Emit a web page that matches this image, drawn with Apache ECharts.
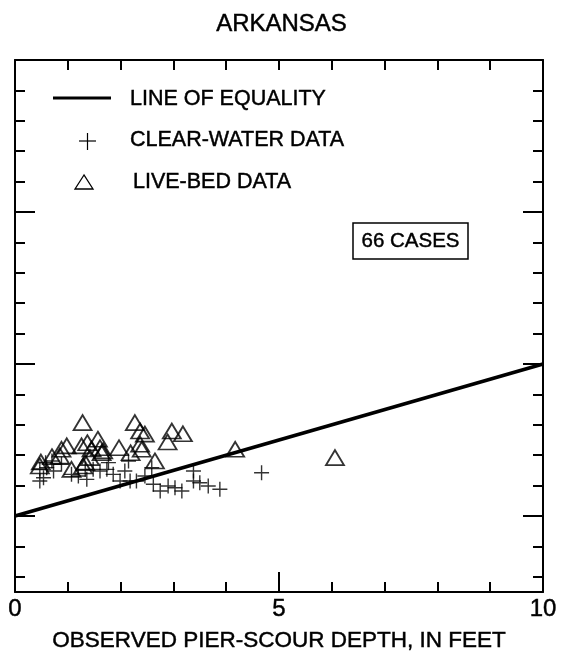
<!DOCTYPE html>
<html>
<head>
<meta charset="utf-8">
<script src="https://cdn.jsdelivr.net/npm/echarts@6/dist/echarts.min.js"></script>
<style>
  html, body { margin: 0; padding: 0; background: #fff; }
  #chart { width: 563px; height: 658px; }
</style>
</head>
<body>
<div id="chart"></div>
<script>
// Observed vs computed pier-scour depth, Arkansas sites (feet)
const clearWaterObserved = [0.47, 0.54, 0.70, 0.60, 0.73, 0.88, 1.07, 1.20, 1.33, 1.36, 1.48, 1.61,
  1.74, 1.77, 1.86, 1.99, 2.15, 2.18, 2.30, 2.46, 2.59, 2.62, 2.75, 2.90, 3.03, 3.16, 3.38, 3.38,
  3.50, 3.66, 3.88, 4.67, 0.47, 0.58, 2.08];
const clearWaterComputed = [2.30, 2.52, 3.62, 3.18, 2.96, 3.40, 2.74, 2.63, 3.07, 2.41, 3.07, 2.96,
  3.07, 3.51, 2.74, 2.30, 3.62, 2.30, 2.30, 2.63, 3.18, 2.09, 1.64, 1.97, 1.86, 1.64, 2.96, 2.30,
  2.19, 1.97, 1.76, 2.85, 3.09, 3.50, 2.96];

const liveBedObserved = [1.28, 2.27, 2.37, 2.46, 2.97, 3.18, 2.89, 1.57, 1.37, 1.26, 1.61, 1.67,
  0.98, 0.88, 0.85, 1.97, 2.19, 2.37, 2.40, 0.49, 0.47, 1.07, 1.42, 1.33, 1.29, 2.65, 4.17, 6.06,
  1.45, 1.64, 0.70];
const liveBedComputed = [6.14, 6.14, 5.59, 5.39, 5.59, 5.41, 4.87, 5.05, 4.82, 4.61, 4.49, 4.28,
  4.61, 4.39, 3.95, 4.49, 4.16, 4.72, 4.39, 3.55, 3.29, 3.07, 3.84, 3.51, 3.29, 3.62, 4.39, 3.84,
  4.41, 4.16, 3.90];

const equalityLine = [[0, 0], [10, 10]];

const xTickLabels = [0, 5, 10];
const yMinorTicks = [-4, -2, 2, 4, 6, 8, 12, 14, 16, 18, 22, 24, 26, 28];
const yMajorTicks = [0, 10, 20];
const caseCount = '66 CASES';

const FONT = '"Liberation Sans", Arial, Helvetica, sans-serif';
const INK = '#000';
// a hairline outline gives the lettering a slightly heavier weight
const heavy = { textBorderColor: INK, textBorderWidth: 0.45 };
const heavyStyle = { stroke: INK, lineWidth: 0.45 };

const zip = (xs, ys) => xs.map((x, i) => [x, ys[i]]);

const axisLine = { show: true, onZero: false, lineStyle: { color: INK, width: 2 } };
const noLine = { show: false, onZero: false };

function xAxisDef(pos, tickOpts, labelOpts, lineOpts) {
  return {
    type: 'value', position: pos, min: 0, max: 10, interval: 1,
    axisLine: lineOpts, splitLine: { show: false },
    axisTick: Object.assign({ inside: true, lineStyle: { color: INK, width: 2 } }, tickOpts),
    axisLabel: labelOpts || { show: false }
  };
}
function yAxisDef(pos, tickOpts, lineOpts) {
  return {
    type: 'value', position: pos, min: -5, max: 30,
    axisLine: lineOpts, splitLine: { show: false },
    axisTick: Object.assign({ inside: true, lineStyle: { color: INK, width: 2 } }, tickOpts),
    axisLabel: { show: false }
  };
}

function keyText(x, y, text, size) {
  return {
    type: 'text', x: x, y: y,
    style: Object.assign({ text: text, font: size + 'px ' + FONT, fill: INK, verticalAlign: 'middle' }, heavyStyle)
  };
}

const chart = echarts.init(document.getElementById('chart'), null, { renderer: 'canvas' });

chart.setOption({
  backgroundColor: '#fff',
  animation: false,
  title: {
    text: 'ARKANSAS', left: 'center', top: 7,
    textStyle: Object.assign({ fontFamily: FONT, fontSize: 24, fontWeight: 'normal', color: INK }, heavy)
  },
  grid: { left: 15, top: 60, right: 20, bottom: 66, containLabel: false },
  xAxis: [
    Object.assign(xAxisDef('bottom', { length: 10 }, Object.assign({
      show: true, customValues: xTickLabels, margin: 5,
      fontFamily: FONT, fontSize: 24, color: INK
    }, heavy), axisLine), {
      name: 'OBSERVED PIER-SCOUR DEPTH, IN FEET', nameLocation: 'middle', nameGap: 37,
      nameTextStyle: Object.assign({ fontFamily: FONT, fontSize: 22.5, color: INK }, heavy)
    }),
    xAxisDef('bottom', { length: 20, customValues: [5] }, null, noLine),
    xAxisDef('top', { length: 10 }, null, axisLine)
  ],
  yAxis: [
    yAxisDef('left', { length: 10, customValues: yMinorTicks }, axisLine),
    yAxisDef('left', { length: 20, customValues: yMajorTicks }, noLine),
    yAxisDef('right', { length: 10, customValues: yMinorTicks }, axisLine),
    yAxisDef('right', { length: 20, customValues: yMajorTicks }, noLine)
  ],
  series: [
    {
      name: 'LINE OF EQUALITY', type: 'line', data: equalityLine,
      showSymbol: false, symbol: 'none',
      lineStyle: { color: INK, width: 3.8 }, z: 3
    },
    {
      name: 'CLEAR-WATER DATA', type: 'scatter', data: zip(clearWaterObserved, clearWaterComputed),
      symbol: 'path://M0,7L14,7M7,0L7,14', symbolSize: 15,
      itemStyle: { color: 'none', borderColor: INK, borderWidth: 1.4 }, z: 4
    },
    {
      name: 'LIVE-BED DATA', type: 'scatter', data: zip(liveBedObserved, liveBedComputed),
      symbol: 'triangle', symbolSize: [18, 15],
      itemStyle: { color: 'none', borderColor: INK, borderWidth: 1.8 }, z: 5
    }
  ],
  graphic: [
    // key, drawn inside the upper-left of the plot
    { type: 'line', shape: { x1: 53, y1: 98, x2: 111, y2: 98 }, style: { stroke: INK, lineWidth: 3 } },
    keyText(130, 99, 'LINE OF EQUALITY', 21.5),
    { type: 'line', shape: { x1: 79, y1: 141, x2: 96, y2: 141 }, style: { stroke: INK, lineWidth: 1.2 } },
    { type: 'line', shape: { x1: 87.5, y1: 133, x2: 87.5, y2: 150 }, style: { stroke: INK, lineWidth: 1.2 } },
    keyText(130, 140, 'CLEAR-WATER DATA', 21.5),
    { type: 'polygon', shape: { points: [[84, 175], [75, 189], [93, 189]] }, style: { fill: 'none', stroke: INK, lineWidth: 1.3 } },
    keyText(133, 182, 'LIVE-BED DATA', 21.5),
    // case count box
    { type: 'rect', shape: { x: 353, y: 223, width: 115, height: 36 }, style: { fill: '#fff', stroke: INK, lineWidth: 1.5 } },
    {
      type: 'text', x: 410.5, y: 241.5,
      style: Object.assign({ text: caseCount, font: '20.5px ' + FONT, fill: INK, align: 'center', verticalAlign: 'middle' }, heavyStyle)
    }
  ]
});
</script>
</body>
</html>
